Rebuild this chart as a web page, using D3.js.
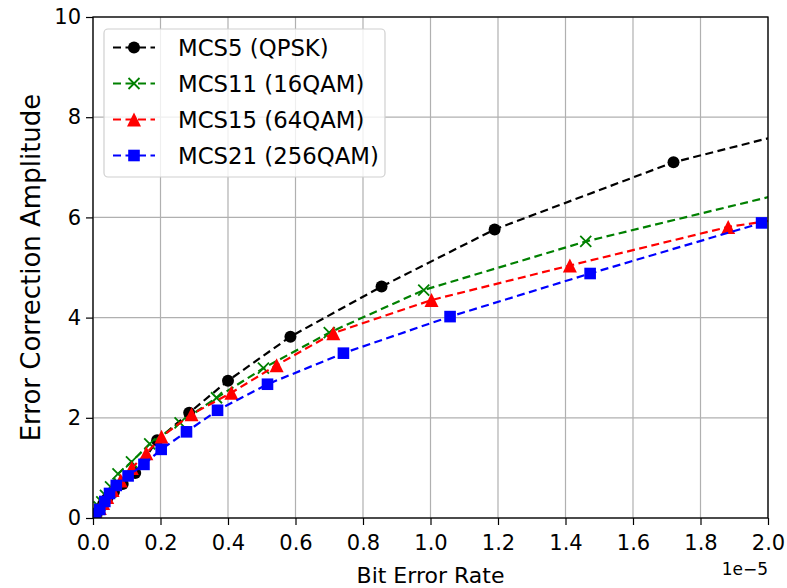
<!DOCTYPE html>
<html>
<head>
<meta charset="utf-8">
<script src="https://cdn.jsdelivr.net/npm/d3@7"></script>
<style>
  html, body { margin: 0; padding: 0; background: #fff; }
  text { font-family: "DejaVu Sans", sans-serif; fill: #000; }
</style>
</head>
<body>
<svg id="chart" width="787" height="588"></svg>
<script>
// Bit error rate (units of 1e-5) vs. error correction amplitude, per MCS
const qpskBer   = [0.0, 0.012, 0.02, 0.03, 0.043, 0.062, 0.088, 0.125, 0.19, 0.285, 0.40, 0.585, 0.855, 1.19, 1.72, 2.48];
const qpskAmp   = [0.0, 0.10, 0.18, 0.28, 0.40, 0.52, 0.68, 0.90, 1.55, 2.10, 2.74, 3.62, 4.62, 5.76, 7.10, 8.40];

const qam16Ber  = [0.0, 0.01, 0.018, 0.026, 0.037, 0.052, 0.074, 0.114, 0.168, 0.258, 0.366, 0.505, 0.70, 0.98, 1.46, 2.09];
const qam16Amp  = [0.0, 0.12, 0.22, 0.32, 0.45, 0.62, 0.88, 1.12, 1.48, 1.90, 2.40, 2.99, 3.70, 4.55, 5.52, 6.55];

const qam64Ber  = [0.0, 0.01, 0.02, 0.03, 0.042, 0.058, 0.082, 0.115, 0.158, 0.203, 0.292, 0.41, 0.544, 0.712, 1.003, 1.413, 1.882, 2.6];
const qam64Amp  = [0.0, 0.10, 0.20, 0.30, 0.42, 0.56, 0.75, 1.00, 1.29, 1.62, 2.07, 2.50, 3.05, 3.69, 4.35, 5.04, 5.81, 6.53];

const qam256Ber = [0.0, 0.008, 0.02, 0.035, 0.049, 0.069, 0.104, 0.151, 0.202, 0.277, 0.369, 0.517, 0.742, 1.058, 1.473, 1.981];
const qam256Amp = [0.0, 0.08, 0.17, 0.33, 0.49, 0.65, 0.84, 1.07, 1.37, 1.72, 2.15, 2.67, 3.29, 4.02, 4.88, 5.89];

const seriesNames   = ["MCS5 (QPSK)", "MCS11 (16QAM)", "MCS15 (64QAM)", "MCS21 (256QAM)"];
const seriesColors  = ["#000000", "#008000", "#ff0000", "#0000ff"];
const seriesMarkers = ["circle", "x", "triangle", "square"];

const xTicks = [0.0, 0.2, 0.4, 0.6, 0.8, 1.0, 1.2, 1.4, 1.6, 1.8, 2.0];
const yTicks = [0, 2, 4, 6, 8, 10];

const series = [
  { name: seriesNames[0], color: seriesColors[0], marker: seriesMarkers[0], x: qpskBer,   y: qpskAmp },
  { name: seriesNames[1], color: seriesColors[1], marker: seriesMarkers[1], x: qam16Ber,  y: qam16Amp },
  { name: seriesNames[2], color: seriesColors[2], marker: seriesMarkers[2], x: qam64Ber,  y: qam64Amp },
  { name: seriesNames[3], color: seriesColors[3], marker: seriesMarkers[3], x: qam256Ber, y: qam256Amp }
];

const svg = d3.select("#chart");
const margin = { left: 93, right: 19, top: 17, bottom: 70 };
const W = 787, H = 588;
const x = d3.scaleLinear().domain([0, 2.0]).range([margin.left, W - margin.right]);
const y = d3.scaleLinear().domain([0, 10]).range([H - margin.bottom, margin.top]);

// clip region for the plotted series
svg.append("defs").append("clipPath").attr("id", "plotClip")
  .append("rect")
  .attr("x", x(0)).attr("y", y(10))
  .attr("width", x(2) - x(0)).attr("height", y(0) - y(10));

// grid
const grid = svg.append("g");
grid.selectAll("line.gx").data(xTicks).join("line")
  .attr("x1", d => x(d)).attr("x2", d => x(d))
  .attr("y1", y(0)).attr("y2", y(10))
  .attr("stroke", "#b0b0b0").attr("stroke-width", 1.2);
grid.selectAll("line.gy").data(yTicks).join("line")
  .attr("x1", x(0)).attr("x2", x(2))
  .attr("y1", d => y(d)).attr("y2", d => y(d))
  .attr("stroke", "#b0b0b0").attr("stroke-width", 1.2);

// marker drawing helper
function drawMarker(g, type, color, cx, cy) {
  if (type === "circle") {
    g.append("circle").attr("cx", cx).attr("cy", cy).attr("r", 6).attr("fill", color);
  } else if (type === "square") {
    g.append("rect").attr("x", cx - 5.8).attr("y", cy - 5.8).attr("width", 11.6).attr("height", 11.6).attr("fill", color);
  } else if (type === "triangle") {
    const s = 7;
    g.append("path")
      .attr("d", `M${cx},${cy - s} L${cx + s},${cy + s} L${cx - s},${cy + s} Z`)
      .attr("fill", color);
  } else if (type === "x") {
    const s = 5.5;
    g.append("path")
      .attr("d", `M${cx - s},${cy - s} L${cx + s},${cy + s} M${cx - s},${cy + s} L${cx + s},${cy - s}`)
      .attr("stroke", color).attr("stroke-width", 1.8).attr("fill", "none");
  }
}

const plot = svg.append("g").attr("clip-path", "url(#plotClip)");
const line = d3.line().x(d => x(d[0])).y(d => y(d[1]));

series.forEach(s => {
  const pts = s.x.map((v, i) => [v, s.y[i]]);
  const g = plot.append("g");
  g.append("path").datum(pts)
    .attr("d", line)
    .attr("fill", "none")
    .attr("stroke", s.color)
    .attr("stroke-width", 2.2)
    .attr("stroke-dasharray", "8,4.5");
  pts.filter(p => p[0] > 0).forEach(p => drawMarker(g, s.marker, s.color, x(p[0]), y(p[1])));
});

// axes
const xAxis = d3.axisBottom(x).tickValues(xTicks).tickFormat(d3.format(".1f")).tickSize(7).tickPadding(10);
const yAxis = d3.axisLeft(y).tickValues(yTicks).tickFormat(d3.format("d")).tickSize(7).tickPadding(5);

const gx = svg.append("g").attr("transform", `translate(0,${y(0)})`).call(xAxis);
const gy = svg.append("g").attr("transform", `translate(${x(0)},0)`).call(yAxis);
[gx, gy].forEach(g => {
  g.select(".domain").remove();
  g.selectAll(".tick line").attr("stroke", "#000").attr("stroke-width", 1.2);
  g.selectAll(".tick text").style("font-size", "21px").style("font-family", "DejaVu Sans");
});

// frame
svg.append("rect")
  .attr("x", x(0)).attr("y", y(10))
  .attr("width", x(2) - x(0)).attr("height", y(0) - y(10))
  .attr("fill", "none").attr("stroke", "#000").attr("stroke-width", 1.3);

// axis labels
svg.append("text")
  .attr("x", (x(0) + x(2)) / 2).attr("y", 583)
  .attr("text-anchor", "middle").style("font-size", "22px")
  .text("Bit Error Rate");
svg.append("text")
  .attr("transform", `translate(40,${(y(0) + y(10)) / 2}) rotate(-90)`)
  .attr("text-anchor", "middle").style("font-size", "26px")
  .text("Error Correction Amplitude");
svg.append("text")
  .attr("x", x(2)).attr("y", 575)
  .attr("text-anchor", "end").style("font-size", "17px")
  .text("1e\u22125");

// legend
const legend = svg.append("g");
legend.append("rect")
  .attr("x", 104).attr("y", 29).attr("width", 281).attr("height", 148)
  .attr("rx", 4).attr("ry", 4)
  .attr("fill", "#fff").attr("fill-opacity", 0.8)
  .attr("stroke", "#d0d0d0").attr("stroke-width", 1.2);
series.forEach((s, i) => {
  const cy = 47.5 + i * 36;
  const g = legend.append("g");
  g.append("line")
    .attr("x1", 113).attr("x2", 155).attr("y1", cy).attr("y2", cy)
    .attr("stroke", s.color).attr("stroke-width", 2.2)
    .attr("stroke-dasharray", "8,4.5");
  drawMarker(g, s.marker, s.color, 134, cy);
  g.append("text")
    .attr("x", 178).attr("y", cy).attr("dy", "0.36em")
    .style("font-size", "22.8px")
    .text(s.name);
});
</script>
</body>
</html>
